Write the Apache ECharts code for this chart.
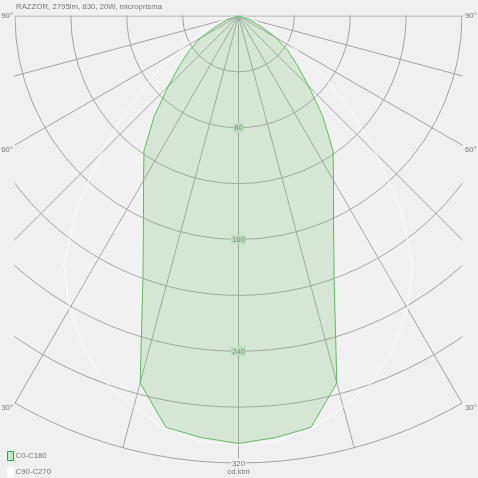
<!DOCTYPE html>
<html><head><meta charset="utf-8">
<script src="https://cdn.jsdelivr.net/npm/echarts@6/dist/echarts.min.js"></script>
<style>html,body{margin:0;padding:0;background:#f0f0f0}#c{width:478px;height:478px}</style>
</head><body><div id="c"></div>
<script>
// ---- data ----
const chartTitle = 'RAZZOR, 2795lm, 830, 20W, microprisma';
const seriesNames = ['C0-C180', 'C90-C270'];
const unitName = 'cd.klm';
const gammaDeg = [0, 5, 10, 15, 20, 25, 30, 35, 40, 45, 50, 55, 60, 65, 70, 75, 80, 85, 90];
const c0c180  = [306, 303, 299, 272, 200, 161, 136, 118, 94, 71, 55, 43, 31, 18, 9, 4, 2, 1, 0];
const c90c270 = [307, 306, 300, 290, 279, 263, 242, 218, 181, 140, 105, 74, 48, 30, 20, 12, 6, 2, 0];
const radiusLabelTicks = [80, 160, 240, 320];
const angleTickLabels = [90, 60, 30];

// ---- layout / style ----
const W = 478, CX = 238.5, CY = 16, R = 447;
const BOX = {l: 15, r: 462, t: 16, b: 463};
const BG = '#f0f0f0';
const GRID = '#a4a4a4';
const TXT = '#777777';
const FONT = 'Liberation Sans, Arial, sans-serif';
const FS = 7.8;

function buildPoints(vals) {
  const pts = [];
  for (let i = gammaDeg.length - 1; i >= 0; i--) pts.push([vals[i], gammaDeg[i]]);
  for (let i = 1; i < gammaDeg.length; i++) pts.push([vals[i], 360 - gammaDeg[i]]);
  return pts;
}

const chart = echarts.init(document.getElementById('c'), null, {renderer: 'canvas'});

const graphics = [
  {type: 'rect', z: 100, shape: {x: 0, y: 0, width: W, height: BOX.t - 0.5}, style: {fill: BG}},
  {type: 'rect', z: 100, shape: {x: 0, y: 0, width: BOX.l - 0.5, height: 418}, style: {fill: BG}},
  {type: 'rect', z: 100, shape: {x: BOX.r + 0.5, y: 0, width: W - BOX.r, height: 418}, style: {fill: BG}}
];
angleTickLabels.forEach(a => {
  const t = Math.tan(a * Math.PI / 180);
  const yl = CY + (a >= 90 ? 0 : (CX - BOX.l) / t + 4.5);
  const yr = CY + (a >= 90 ? 0 : (BOX.r - CX) / t + 4.5);
  graphics.push({type: 'text', z: 101, x: BOX.l - 2, y: yl,
    style: {text: a + '°', fill: TXT, font: FS + 'px ' + FONT, align: 'right', verticalAlign: 'middle'}});
  graphics.push({type: 'text', z: 101, x: BOX.r + 3, y: yr,
    style: {text: a + '°', fill: TXT, font: FS + 'px ' + FONT, align: 'left', verticalAlign: 'middle'}});
});

const option = {
  backgroundColor: BG,
  animation: false,
  title: {
    text: chartTitle, left: 16, top: 3, padding: 0, z: 200,
    textStyle: {fontSize: FS, fontWeight: 'normal', color: TXT, fontFamily: FONT}
  },
  legend: {
    orient: 'vertical', left: 7, top: 451, padding: 0, itemWidth: 6, itemHeight: 9, itemGap: 6,
    textStyle: {fontSize: FS, color: TXT, fontFamily: FONT, padding: [0, 0, 0, -3]},
    data: [
      {name: seriesNames[0], icon: 'rect', itemStyle: {color: '#cbe4c9', borderColor: '#3e9e3e', borderWidth: 1}},
      {name: seriesNames[1], icon: 'rect', itemStyle: {color: '#ffffff', borderColor: '#ffffff', borderWidth: 1}}
    ]
  },
  polar: {center: [CX, CY], radius: R},
  angleAxis: {
    type: 'value', min: 0, max: 360, interval: 15, startAngle: 270, clockwise: true,
    axisLine: {show: false}, axisTick: {show: false}, axisLabel: {show: false},
    splitLine: {show: true, lineStyle: {color: GRID, width: 1}}
  },
  radiusAxis: {
    type: 'value', min: 0, max: 320, interval: 40,
    axisLine: {show: false}, axisTick: {show: false},
    splitLine: {show: true, lineStyle: {color: GRID, width: 1}},
    name: unitName, nameLocation: 'end', nameGap: 5,
    nameTextStyle: {fontSize: FS, color: TXT, fontFamily: FONT},
    axisLabel: {
      margin: 0, align: 'center', verticalAlign: 'middle', showMinLabel: false,
      formatter: v => radiusLabelTicks.indexOf(v) < 0 ? '' :
        (v < 300 ? '{g|' + v + '}' : '{o|' + v + '}'),
      rich: {
        g: {fontSize: FS, color: TXT, fontFamily: FONT, backgroundColor: '#d2e5d0', padding: [1, 1, 0, 1]},
        o: {fontSize: FS, color: TXT, fontFamily: FONT, backgroundColor: BG, padding: [1, 1, 0, 1]}
      }
    }
  },
  series: [
    {
      name: seriesNames[1], type: 'line', coordinateSystem: 'polar',
      data: buildPoints(c90c270), showSymbol: false, symbol: 'none', smooth: false,
      lineStyle: {color: 'rgba(255,255,255,0.85)', width: 1},
      itemStyle: {color: '#ffffff'},
      areaStyle: {color: 'rgba(255,255,255,0.1)'}, z: 2
    },
    {
      name: seriesNames[0], type: 'line', coordinateSystem: 'polar',
      data: buildPoints(c0c180), showSymbol: false, symbol: 'none', smooth: false,
      lineStyle: {color: '#5dbf5d', width: 1},
      itemStyle: {color: '#5dbf5d'},
      areaStyle: {color: 'rgba(95,185,95,0.27)'}, z: 3
    }
  ],
  graphic: graphics
};
chart.setOption(option);
</script>
</body></html>
